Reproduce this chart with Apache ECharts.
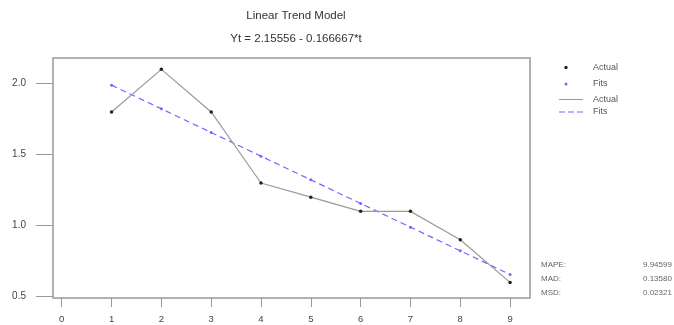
<!DOCTYPE html>
<html><head><meta charset="utf-8">
<script src="https://cdn.jsdelivr.net/npm/echarts@6/dist/echarts.min.js"></script>
<style>html,body{margin:0;padding:0;background:#fff}#c{width:674px;height:325px}</style>
</head><body><div id="c"></div>
<script>
const timeIdx = [1, 2, 3, 4, 5, 6, 7, 8, 9];
const actual = [1.8, 2.1, 1.8, 1.3, 1.2, 1.1, 1.1, 0.9, 0.6];
const fits = [1.98889, 1.82222, 1.65556, 1.48889, 1.32222, 1.15556, 0.98889, 0.82222, 0.65556];
const xTicks = [0, 1, 2, 3, 4, 5, 6, 7, 8, 9];
const yTicks = [0.5, 1.0, 1.5, 2.0];
const legendText = ['Actual', 'Fits', 'Actual', 'Fits'];
const statNames = ['MAPE:', 'MAD:', 'MSD:'];
const statValues = ['9.94599', '0.13580', '0.02321'];

const actualPts = timeIdx.map((t, i) => [t, actual[i]]);
const fitPts = timeIdx.map((t, i) => [t, fits[i]]);
const F = 'Liberation Sans, Arial, sans-serif';
const chart = echarts.init(document.getElementById('c'));
const g = [];
const legY = [67.5, 84, 99.5, 112];
g.push({type:'circle', shape:{cx:566, cy:legY[0], r:1.7}, style:{fill:'#222'}});
g.push({type:'circle', shape:{cx:566, cy:legY[1], r:1.5}, style:{fill:'#6a6aff'}});
g.push({type:'line', shape:{x1:559, y1:legY[2], x2:583, y2:legY[2]}, style:{stroke:'#999', lineWidth:1}});
g.push({type:'line', shape:{x1:559, y1:legY[3], x2:583, y2:legY[3]}, style:{stroke:'#6a6aff', lineWidth:1, lineDash:[6,3]}});
legendText.forEach((t, i) => g.push({type:'text', x:593, y:legY[i], style:{text:t, font:'9px '+F, fill:'#555', verticalAlign:'middle'}}));
statNames.forEach((t, i) => {
  g.push({type:'text', x:541, y:265 + i*14, style:{text:t, font:'8px '+F, fill:'#666', verticalAlign:'middle'}});
  g.push({type:'text', x:643, y:265 + i*14, style:{text:statValues[i], font:'8px '+F, fill:'#666', verticalAlign:'middle'}});
});
chart.setOption({
  animation:false,
  title:[
    {text:'Linear Trend Model', left:291, top:5, textAlign:'center', textStyle:{fontFamily:F, fontSize:11.5, fontWeight:'normal', color:'#333'}},
    {text:'Yt = 2.15556 - 0.166667*t', left:291, top:28, textAlign:'center', textStyle:{fontFamily:F, fontSize:11.5, fontWeight:'normal', color:'#333'}}
  ],
  grid:{left:53, right:144, top:58, bottom:27, show:true, borderColor:'#999', borderWidth:1.5, backgroundColor:'#fff'},
  xAxis:{type:'value', min:-0.175, max:9.4,
    axisLine:{show:false, onZero:false}, splitLine:{show:false},
    axisTick:{show:true, length:9, lineStyle:{color:'#999'}, customValues:xTicks},
    axisLabel:{customValues:xTicks, margin:16, fontFamily:F, fontSize:9.5, color:'#444'}},
  yAxis:{type:'value', min:0.49, max:2.18,
    axisLine:{show:false, onZero:false}, splitLine:{show:false},
    axisTick:{show:true, length:17, lineStyle:{color:'#999'}, customValues:yTicks},
    axisLabel:{customValues:yTicks, margin:27, fontFamily:F, fontSize:10, color:'#444', formatter:v=>v.toFixed(1)}},
  graphic:g,
  series:[
    {type:'line', data:actualPts, symbol:'circle', symbolSize:3.5, itemStyle:{color:'#222'}, lineStyle:{color:'#999', width:1.2}, z:3},
    {type:'line', data:fitPts, symbol:'circle', symbolSize:3, itemStyle:{color:'#6a6aff'}, lineStyle:{color:'#6a6aff', width:1.2, type:[6,4]}, z:2}
  ]
});
</script></body></html>
